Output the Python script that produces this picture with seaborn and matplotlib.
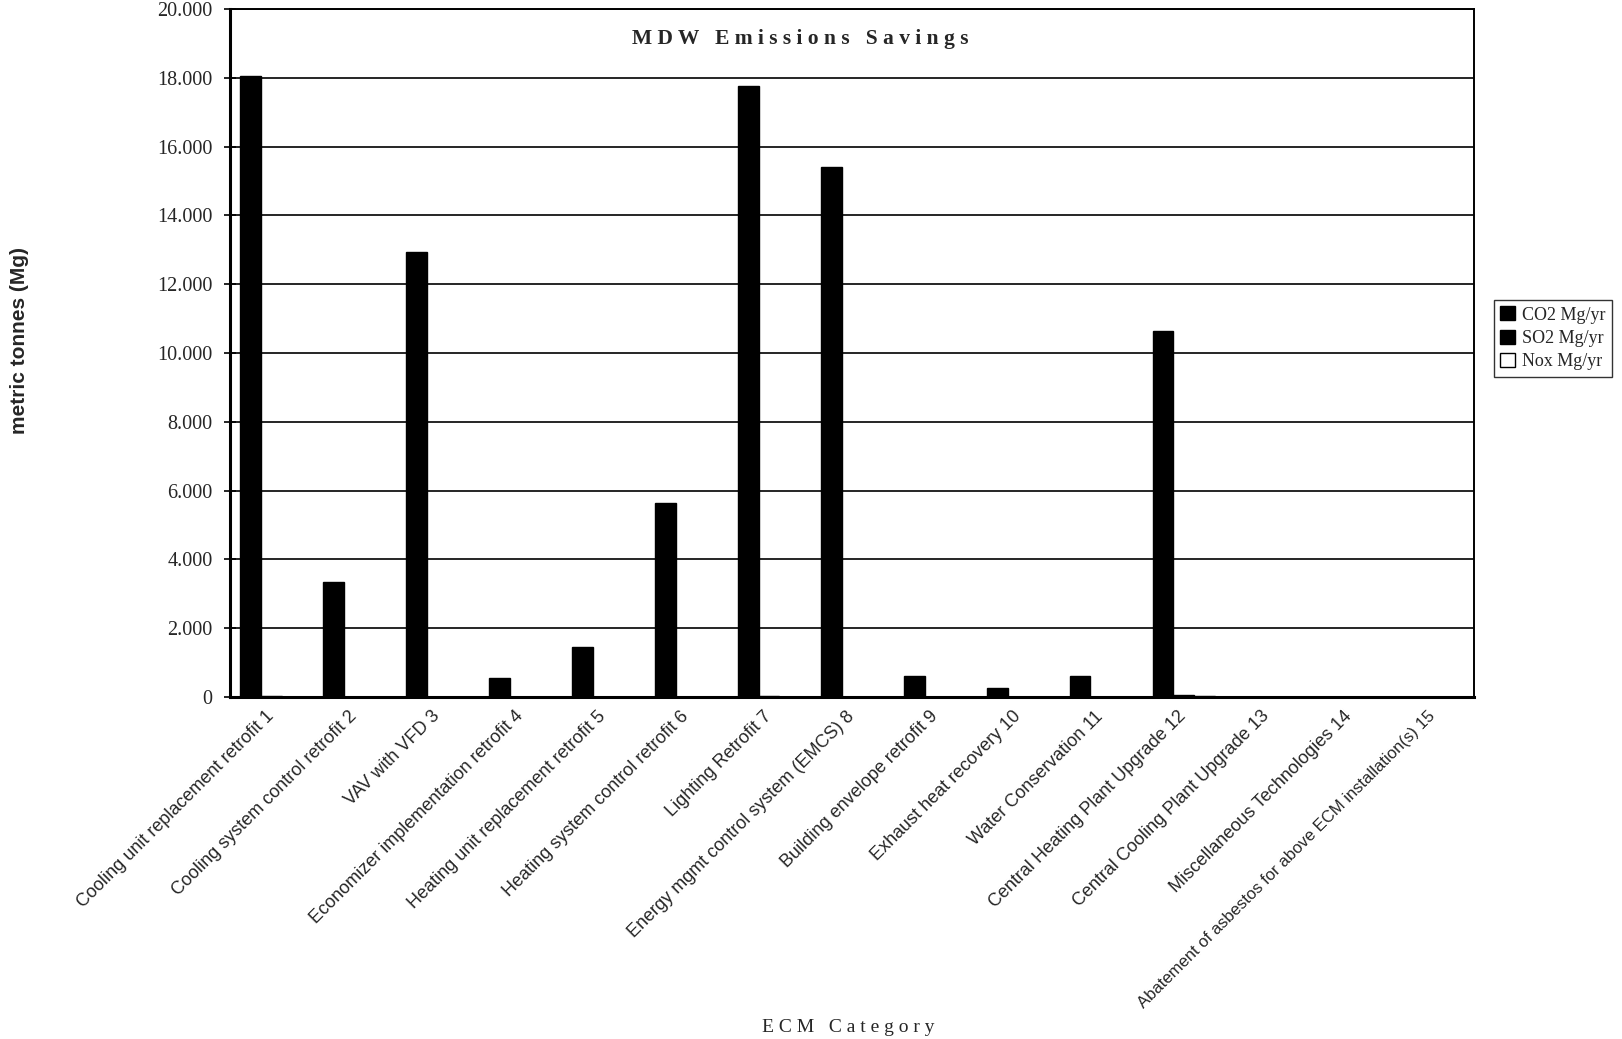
import numpy as np
import pandas as pd
import matplotlib
matplotlib.use("Agg")
import matplotlib.pyplot as plt
import seaborn as sns

categories = [
    "Cooling unit replacement retrofit 1",
    "Cooling system control retrofit 2",
    "VAV with VFD 3",
    "Economizer implementation retrofit 4",
    "Heating unit replacement retrofit 5",
    "Heating system control retrofit 6",
    "Lighting Retrofit 7",
    "Energy mgmt control system (EMCS) 8",
    "Building envelope retrofit 9",
    "Exhaust heat recovery 10",
    "Water Conservation 11",
    "Central Heating Plant Upgrade 12",
    "Central Cooling Plant Upgrade 13",
    "Miscellaneous Technologies 14",
    "Abatement of asbestos for above ECM installation(s) 15",
]
co2 = [18050, 3350, 12950, 550, 1450, 5650, 17750, 15400, 600, 250, 600, 10650, 0, 0, 0]
so2 = [15, 3, 11, 1, 2, 5, 15, 13, 1, 0, 1, 60, 0, 0, 0]
nox = [8, 2, 6, 0, 1, 3, 8, 7, 0, 0, 0, 30, 0, 0, 0]
series = ["CO2 Mg/yr", "SO2 Mg/yr", "Nox Mg/yr"]
yticks = [0, 2000, 4000, 6000, 8000, 10000, 12000, 14000, 16000, 18000, 20000]
ytick_labels = ["0", "2.000", "4.000", "6.000", "8.000", "10.000", "12.000",
                "14.000", "16.000", "18.000", "20.000"]

df = pd.DataFrame({
    "category": categories * 3,
    "series": [series[0]] * 15 + [series[1]] * 15 + [series[2]] * 15,
    "value": co2 + so2 + nox,
})

sns.set_theme(style="white")
plt.rcParams["font.family"] = ["Liberation Serif", "DejaVu Serif"]

fig = plt.figure(figsize=(16.22, 10.39), dpi=100)
ax = fig.add_axes([230 / 1622, 1 - 697 / 1039, (1474 - 230) / 1622, (697 - 9) / 1039])

sns.barplot(data=df, x="category", y="value", hue="series", order=categories,
            hue_order=series, palette=["black", "black", "white"],
            edgecolor="black", linewidth=1.0, width=0.75, ax=ax, errorbar=None,
            saturation=1)

ax.set_ylim(0, 20000)
ax.set_xlim(-0.5, 14.5)
ax.set_yticks(yticks)
ax.set_yticklabels(ytick_labels, fontsize=14.5, family=["Liberation Serif"])
ax.yaxis.grid(True, color="black", linewidth=1.2)
ax.set_axisbelow(True)

# tick marks between categories, labels at category centres
ax.set_xticks(np.arange(-0.5, 15.0, 1.0))
ax.set_xticklabels([""] * 16)
ax.set_xticks(np.arange(15), minor=True)
ax.set_xticklabels(categories, minor=True, rotation=45, ha="right", va="center",
                   rotation_mode="anchor", fontsize=13,
                   family=["Liberation Sans"])
ax.get_xticklabels(minor=True)[-1].set_fontsize(12)
ax.tick_params(axis="x", which="major", direction="out", length=6, width=1.2, color="black")
ax.tick_params(axis="x", which="minor", length=0, pad=12)
ax.tick_params(axis="y", which="major", direction="inout", length=9, width=1.2,
               color="black", pad=8, left=True)

for s in ax.spines.values():
    s.set_visible(True)
    s.set_color("black")
    s.set_linewidth(1.4)
ax.spines["left"].set_linewidth(2.2)
ax.spines["bottom"].set_linewidth(2.2)

ax.set_xlabel("")
ax.set_ylabel("")

fig.text(800 / 1622, 1 - 39 / 1039, "M D W   E m i s s i o n s   S a v i n g s",
         ha="center", va="center", fontsize=15.5, fontweight="bold",
         family=["Liberation Serif"])
fig.text(848 / 1622, 1 - 1027 / 1039, "E C M   C a t e g o r y",
         ha="center", va="center", fontsize=14, family=["Liberation Serif"])
fig.text(20 / 1622, 1 - 341 / 1039, "metric tonnes (Mg)", rotation=90,
         ha="center", va="center", fontsize=15, fontweight="bold",
         family=["Liberation Sans"])

leg = ax.legend(loc="upper left", bbox_to_anchor=(1494 / 1622, 1 - 300 / 1039),
                bbox_transform=fig.transFigure, frameon=True, fancybox=False,
                edgecolor="black", handlelength=0.8, handleheight=0.8,
                handletextpad=0.4, borderpad=0.35, labelspacing=0.35,
                borderaxespad=0,
                prop={"family": "Liberation Serif", "size": 13})
leg.get_frame().set_linewidth(1.0)

fig.savefig("out.png", dpi=100, facecolor="white")
